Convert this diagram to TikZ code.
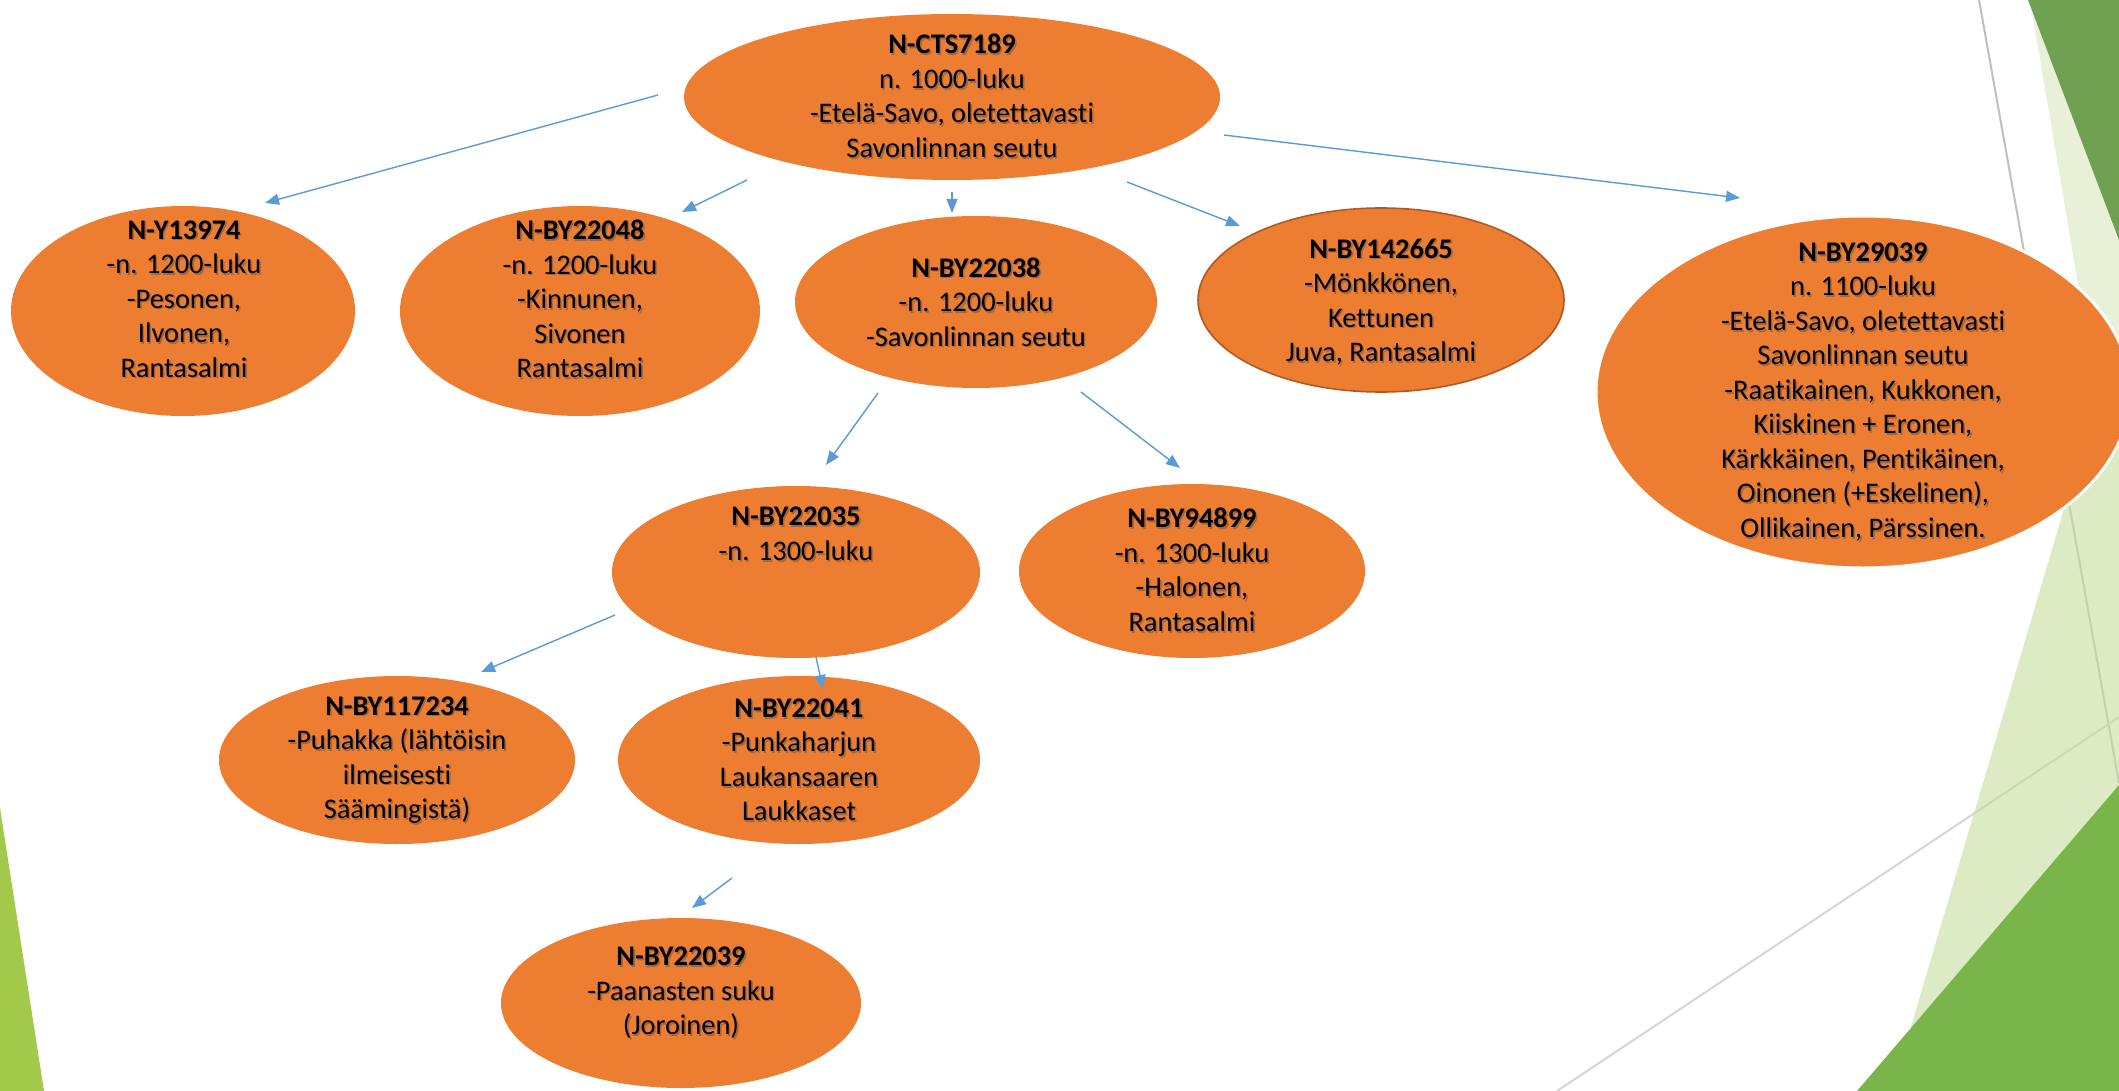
\documentclass[tikz,border=0pt]{standalone}
\usepackage{fontspec}
\setmainfont{Carlito}[Ligatures=NoCommon]
\usetikzlibrary{arrows.meta,shapes.geometric}
\definecolor{orng}{HTML}{ED7D31}
\definecolor{orngedge}{HTML}{AE5A21}
\definecolor{arrblue}{HTML}{5B9BD5}
\definecolor{limegr}{HTML}{A3C94A}
\definecolor{darkgr}{HTML}{70A052}
\definecolor{midgr}{HTML}{7AB54B}
\definecolor{palegrA}{HTML}{D9E8BE}
\definecolor{palegrB}{HTML}{C6DE9D}
\definecolor{lineA}{HTML}{BFBFBF}
\definecolor{lineB}{HTML}{D6D6D6}
\newcommand{\blobtext}[4]{%
  \node[txt, text=black!70, opacity=0.45, xshift=0.8pt, yshift=-0.8pt] (#1S) at (#2,#3) {#4};
  \node[txt] (#1) at (#2,#3) {#4};}
\begin{document}
\begin{tikzpicture}[x=0.5pt,y=-0.5pt,
  blob/.style 2 args={ellipse, fill=orng, minimum width=#1pt, minimum height=#2pt, inner sep=0pt},
  txt/.style={align=center, font=\fontsize{14.2}{17.25}\selectfont, text=black, inner sep=0pt},
  arr/.style={draw=arrblue, line width=0.7pt, -{Triangle[length=7pt,width=5.5pt]}},
  deco/.style={line width=1pt}]
\useasboundingbox (0,0) rectangle (2119,1091);
\fill[white] (0,0) rectangle (2119,1091);
% background decoration
\fill[limegr] (0,808) -- (44,1091) -- (0,1091) -- cycle;
\draw[deco, lineA] (1979,0) -- (2119,783);
\draw[deco, lineB] (1557,1091) -- (2119,717);
\fill[palegrA, opacity=0.6] (2030,0) -- (2097,397) -- (2119,397) -- (2119,0) -- cycle;
\fill[palegrB, opacity=0.6] (2097,397) -- (1892,1091) -- (2119,1091) -- (2119,397) -- cycle;
\fill[darkgr] (2028,0) -- (2119,0) -- (2119,240) -- cycle;
\fill[midgr] (1857,1091) -- (2119,785) -- (2119,1091) -- cycle;

% ellipses
\node[blob={268}{83}] (cts) at (952,97) {};
\node[blob={172}{105}] (y13974) at (183,311) {};
\node[blob={180}{105}] (by22048) at (580,311) {};
\node[blob={181}{86}] (by22038) at (976,302) {};
\node[blob={183}{92}, draw=orngedge, line width=0.8pt] (by142665) at (1381,300) {};
\node[blob={267}{176}, draw=white, line width=1.5pt] (by29039) at (1863,392) {};
\node[blob={184}{86}] (by22035) at (796,572) {};
\node[blob={173}{87}] (by94899) at (1192,571) {};
\node[blob={178}{84}] (by117234) at (397,760) {};
\node[blob={181}{84}] (by22041) at (799,760) {};
\node[blob={180}{85}] (by22039) at (681,1003) {};

% texts
\blobtext{ctsT}{952}{96}{\textbf{N-CTS7189}\\n. 1000-luku\\-Etelä-Savo, oletettavasti\\Savonlinnan seutu}
\blobtext{y13974T}{184}{299}{\textbf{N-Y13974}\\-n. 1200-luku\\-Pesonen,\\Ilvonen,\\Rantasalmi}
\blobtext{by22048T}{580}{299}{\textbf{N-BY22048}\\-n. 1200-luku\\-Kinnunen,\\Sivonen\\Rantasalmi}
\blobtext{by22038T}{976}{302}{\textbf{N-BY22038}\\-n. 1200-luku\\-Savonlinnan seutu}
\blobtext{by142665T}{1381}{302}{\textbf{N-BY142665}\\-Mönkkönen,\\Kettunen\\Juva, Rantasalmi}
\blobtext{by29039T}{1863}{392}{\textbf{N-BY29039}\\n. 1100-luku\\-Etelä-Savo, oletettavasti\\Savonlinnan seutu\\-Raatikainen, Kukkonen,\\Kiiskinen + Eronen,\\Kärkkäinen, Pentikäinen,\\Oinonen (+Eskelinen),\\Ollikainen, Pärssinen.}
\blobtext{by22035T}{796}{534}{\textbf{N-BY22035}\\-n. 1300-luku}
\blobtext{by94899T}{1192}{570}{\textbf{N-BY94899}\\-n. 1300-luku\\-Halonen,\\Rantasalmi}
\blobtext{by117234T}{397}{760}{\textbf{N-BY117234}\\-Puhakka (lähtöisin\\ilmeisesti\\Säämingistä)}
\blobtext{by22041T}{799}{760}{\textbf{N-BY22041}\\-Punkaharjun\\Laukansaaren\\Laukkaset}
\blobtext{by22039T}{681}{993}{\textbf{N-BY22039}\\-Paanasten suku\\(Joroinen)}

% connector end points
\coordinate (a1s) at (658,95);   \coordinate (a1e) at (265,203);
\coordinate (a2s) at (747,180);  \coordinate (a2e) at (682,212);
\coordinate (a3s) at (952,192);  \coordinate (a3e) at (952,213);
\coordinate (a4s) at (1127,182); \coordinate (a4e) at (1240,226);
\coordinate (a5s) at (1224,135); \coordinate (a5e) at (1740,198);
\coordinate (a6s) at (878,393);  \coordinate (a6e) at (826,465);
\coordinate (a7s) at (1081,392); \coordinate (a7e) at (1180,468);
\coordinate (a8s) at (615,615);  \coordinate (a8e) at (481,672);
\coordinate (a9s) at (816,657);  \coordinate (a9e) at (823,689);
\coordinate (a10s) at (732,878); \coordinate (a10e) at (692,908);
\draw[arr] (a1s) -- (a1e);
\draw[arr] (a2s) -- (a2e);
\draw[arr] (a3s) -- (a3e);
\draw[arr] (a4s) -- (a4e);
\draw[arr] (a5s) -- (a5e);
\draw[arr] (a6s) -- (a6e);
\draw[arr] (a7s) -- (a7e);
\draw[arr] (a8s) -- (a8e);
\draw[arr] (a9s) -- (a9e);
\draw[arr] (a10s) -- (a10e);
\end{tikzpicture}
\end{document}
